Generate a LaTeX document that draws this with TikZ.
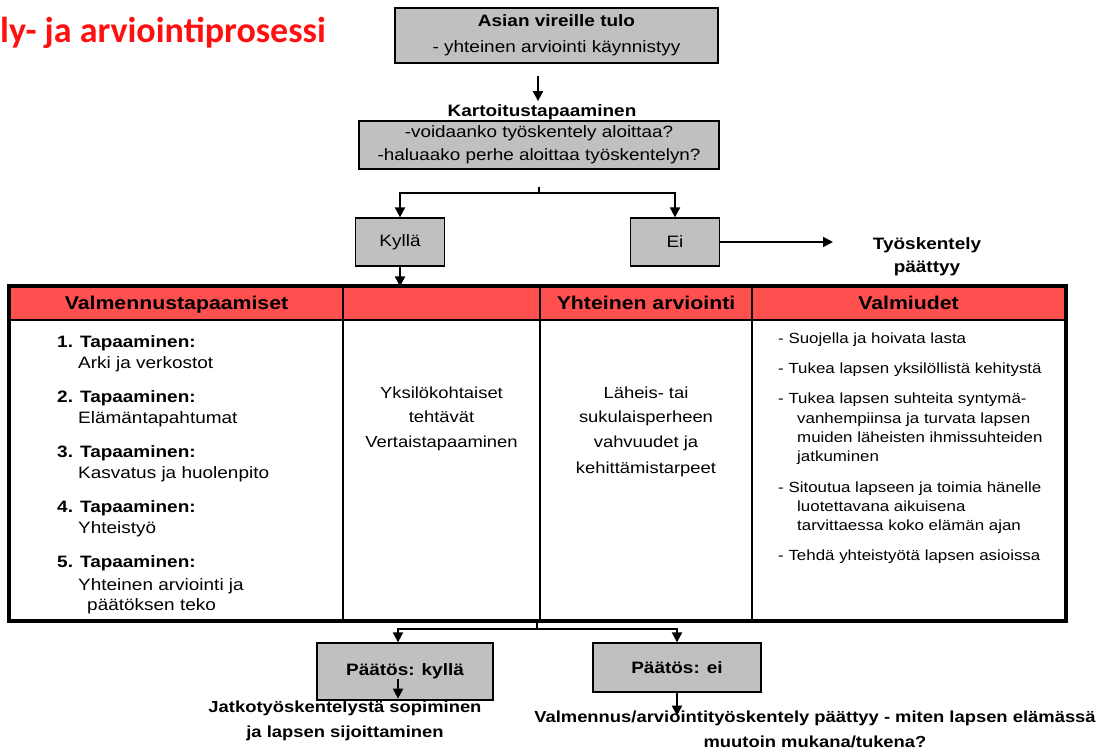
\documentclass[tikz,border=0pt]{standalone}
\usepackage{fontspec}
\setmainfont{Liberation Sans}[FakeStretch=1.15]
\newfontfamily\titlefont{Carlito}
\usetikzlibrary{arrows.meta,calc}
\definecolor{boxgray}{HTML}{C0C0C0}
\definecolor{hdrred}{HTML}{FF5050}
\definecolor{titlered}{HTML}{FF1010}
\begin{document}
\begin{tikzpicture}[x=1pt,y=-1pt,
  graybox/.style={draw=black,line width=1.3pt,fill=boxgray,inner sep=0pt,align=center},
  conn/.style={line width=2pt},
  arr/.style={line width=2pt,-{Triangle[width=10pt,length=10pt]}},
  hdr/.style={draw=black,line width=1.2pt,fill=hdrred,inner sep=0pt,minimum height=33pt,
    text height=13pt,text depth=1pt,
    font=\bfseries\fontsize{18.5}{20}\selectfont},
  cell/.style={draw=black,line width=1.2pt,inner sep=0pt,minimum height=300pt},
  txt/.style={inner sep=0pt,font=\fontsize{16.5}{20}\selectfont},
  txtb/.style={inner sep=0pt,font=\bfseries\fontsize{16.5}{20}\selectfont},
  mid/.style={inner sep=0pt,anchor=base,font=\fontsize{16}{20}\selectfont},
  val/.style={inner sep=0pt,anchor=base west,font=\fontsize{14.7}{18}\selectfont},
]
\useasboundingbox (0,0) rectangle (1110,751);

% title (cut off in the reference)
\node[inner sep=0pt,anchor=base west,text=titlered,font=\titlefont\bfseries\fontsize{36}{37}\selectfont] (title) at (0,43) {ly- ja arviointiprosessi};

% top boxes
\node[graybox,minimum width=323pt,minimum height=55pt,font=\fontsize{16.5}{26}\selectfont] (box1) at (556.5,35.5)
  {{\bfseries Asian vireille tulo}\\- yhteinen arviointi käynnistyy};
\node[txtb] (kt) at (542,112) {Kartoitustapaaminen};
\node[graybox,minimum width=360pt,minimum height=48pt,font=\fontsize{16.4}{23}\selectfont] (box2) at (539,145)
  {-voidaanko työskentely aloittaa?\\-haluaako perhe aloittaa työskentelyn?};

\node[graybox,minimum width=89pt,minimum height=48pt,font=\fontsize{16.5}{20}\selectfont] (kyl) at (400,242) {Kyllä};
\node[graybox,minimum width=89pt,minimum height=48pt,font=\fontsize{16.5}{20}\selectfont] (ei) at (675,242) {Ei};
\node[txtb,align=center,font=\bfseries\fontsize{16.5}{23}\selectfont] (tp) at (927,256.5) {Työskentely\\päättyy};

% table
\node[hdr,minimum width=333pt] (h1) at (176.5,303.5) {Valmennustapaamiset};
\node[hdr,minimum width=197pt] (h2) at (441.5,303.5) {};
\node[hdr,minimum width=212pt] (h3) at (646,303.5) {Yhteinen arviointi};
\node[hdr,minimum width=313pt] (h4) at (908.5,303.5) {Valmiudet};
\node[cell,minimum width=333pt] (b1) at (176.5,470) {};
\node[cell,minimum width=197pt] (b2) at (441.5,470) {};
\node[cell,minimum width=212pt] (b3) at (646,470) {};
\node[cell,minimum width=313pt] (b4) at (908.5,470) {};
\draw[line width=4pt] (h1.north west) rectangle (b4.south east);

% column 1
\foreach \n/\y in {1/347,2/402,3/457,4/512,5/567}
  \node[txtb,anchor=base west] (tap\n) at (57,\y) {\n. Tapaaminen:};
\node[txt,anchor=base west] (s1) at (78,368) {Arki ja verkostot};
\node[txt,anchor=base west] (s2) at (78,423) {Elämäntapahtumat};
\node[txt,anchor=base west] (s3) at (78,478) {Kasvatus ja huolenpito};
\node[txt,anchor=base west] (s4) at (78,533) {Yhteistyö};
\node[txt,anchor=base west] (s5) at (78,590) {Yhteinen arviointi ja};
\node[txt,anchor=base west] (s6) at (87,610) {päätöksen teko};

% column 2
\node[mid] (m1) at (441.5,398) {Yksilökohtaiset};
\node[mid] (m2) at (441.5,422) {tehtävät};
\node[mid] (m3) at (441.5,447) {Vertaistapaaminen};

% column 3
\node[mid] (y1) at (646,398) {Läheis- tai};
\node[mid] (y2) at (646,422) {sukulaisperheen};
\node[mid] (y3) at (646,447) {vahvuudet ja};
\node[mid] (y4) at (646,473) {kehittämistarpeet};

% column 4
\node[val] (v1) at (778,343) {- Suojella ja hoivata lasta};
\node[val] (v2) at (778,373) {- Tukea lapsen yksilöllistä kehitystä};
\node[val] (v3) at (778,403) {- Tukea lapsen suhteita syntymä-};
\node[val] (v4) at (797,423) {vanhempiinsa ja turvata lapsen};
\node[val] (v5) at (797,442) {muiden läheisten ihmissuhteiden};
\node[val] (v6) at (797,461) {jatkuminen};
\node[val] (v7) at (778,492) {- Sitoutua lapseen ja toimia hänelle};
\node[val] (v8) at (797,511) {luotettavana aikuisena};
\node[val] (v9) at (797,530) {tarvittaessa koko elämän ajan};
\node[val] (v10) at (778,560) {- Tehdä yhteistyötä lapsen asioissa};

% bottom boxes
\node[graybox,minimum width=176pt,minimum height=57pt,font=\bfseries\fontsize{16.5}{20}\selectfont] (pk) at (405,671.5) {Päätös: kyllä};
\node[graybox,minimum width=168pt,minimum height=49pt,font=\bfseries\fontsize{16.5}{20}\selectfont] (pe) at (677,667.5) {Päätös: ei};
\node[txtb,align=center,font=\bfseries\fontsize{16}{25}\selectfont] (jt) at (345,720.5) {Jatkotyöskentelystä sopiminen\\ja lapsen sijoittaminen};
\node[txtb,align=center,font=\bfseries\fontsize{16}{25}\selectfont] (vt) at (815,729.5) {Valmennus/arviointityöskentely päättyy - miten lapsen elämässä\\muutoin mukana/tukena?};

% connectors
\draw[arr] ([xshift=-18.5pt,yshift=-12pt]box1.south) -- ([xshift=-4pt,yshift=3pt]kt.north);
\coordinate (sp) at (539,193);
\draw[conn] ([yshift=-17pt]box2.south) -- (sp);
\draw[arr] (sp) -| (kyl.north);
\draw[arr] (sp) -| (ei.north);
\draw[arr] (kyl.south) -- (kyl.south |- h2.north);
\coordinate (eiend) at (833,242);
\draw[arr] (ei.east) -- (eiend);
\coordinate (bs) at (537,629);
\draw[conn] (b3.south west -| bs) -- (bs);
\draw[arr] (bs) -| ([xshift=-7pt]pk.north);
\draw[arr] (bs) -| (pe.north);
\draw[arr] ([xshift=-7pt,yshift=22pt]pk.south) -- ([xshift=-7pt,yshift=2pt]pk.south);
\draw[arr] (pe.south) -- ([yshift=-23pt]pe.south);
\end{tikzpicture}
\end{document}
